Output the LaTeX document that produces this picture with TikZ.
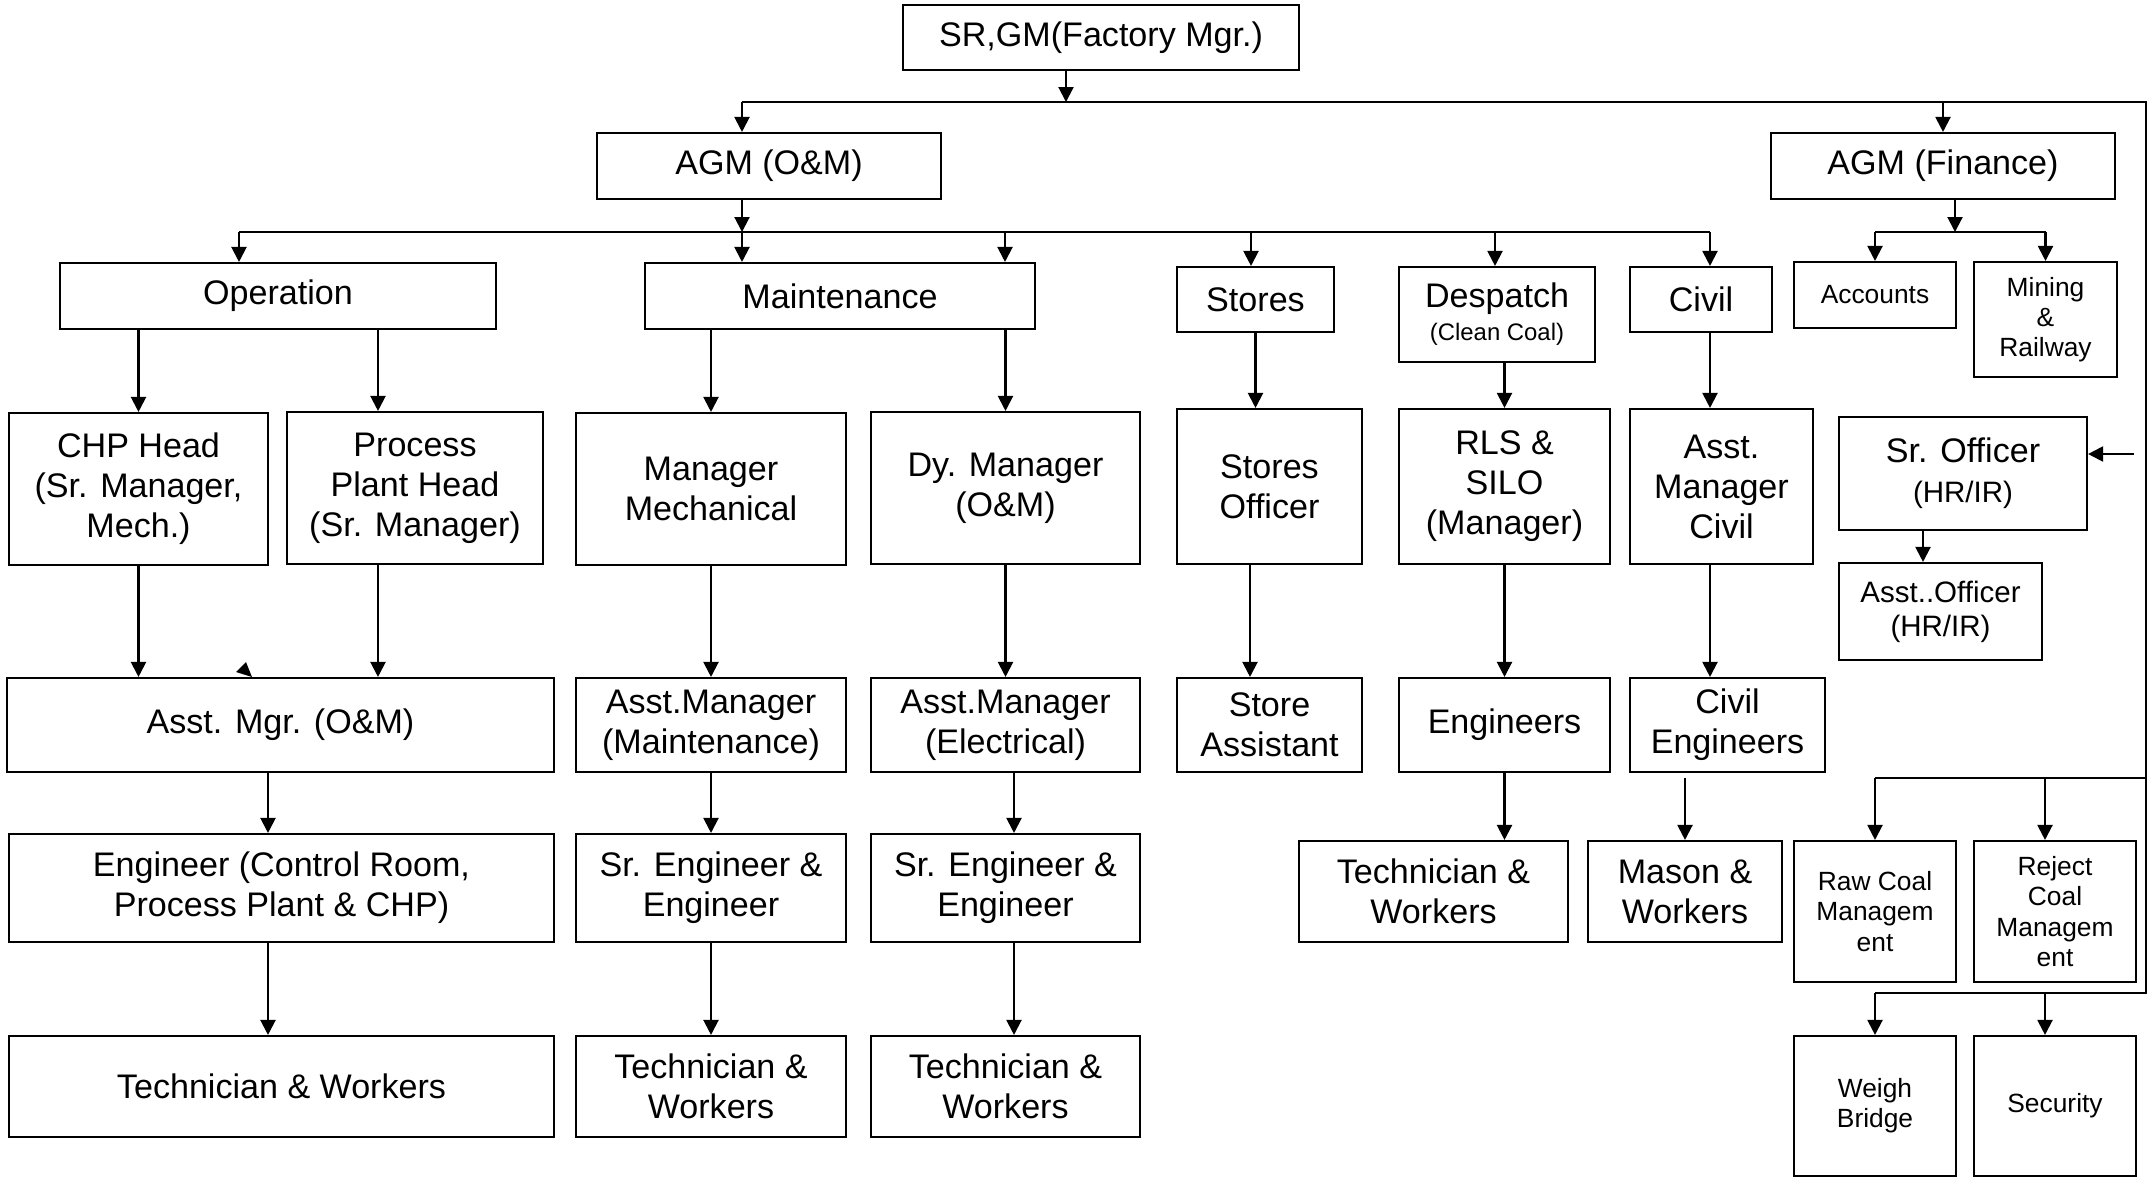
\documentclass[tikz,border=0pt]{standalone}
\usepackage{fontspec}
\setmainfont{Liberation Sans}
\usetikzlibrary{arrows.meta}

\newcommand{\orgfont}{\fontsize{9.7}{11.4}\selectfont}
\newcommand{\orgmid}{\fontsize{8.4}{9.6}\selectfont}
\newcommand{\orgsmall}{\fontsize{7.5}{8.6}\selectfont}
\newcommand{\orgtiny}{\fontsize{6.8}{8}\selectfont}

\begin{document}
\begin{tikzpicture}[
line width=0.6pt,
box/.style={
draw,
inner sep=1pt,
align=center,
font=\orgfont
},
wh/.style 2 args={minimum width=#1cm, minimum height=#2cm},
bus/.style={line width=0.8pt},
>={Triangle[length=1.5mm,width=1.5mm]}
]

\useasboundingbox (0,0) rectangle (21.53,-11.77);

% top level
\node[box, wh={3.96}{0.65}] (srgm) at (11.01,-0.375) {SR,GM(Factory Mgr.)};
\node[box, wh={3.44}{0.66}] (agmom) at (7.69,-1.66) {AGM (O\&M)};
\node[box, wh={3.44}{0.66}] (agmfin) at (19.43,-1.66) {AGM (Finance)};

% departments
\node[box, wh={4.36}{0.66}] (operation) at (2.78,-2.96) {Operation};
\node[box, wh={3.90}{0.66}] (maint) at (8.40,-2.96) {Maintenance};
\node[box, wh={1.57}{0.65}] (stores) at (12.555,-2.995) {Stores};
\node[box, wh={1.96}{0.95}] (despatch) at (14.97,-3.145) {Despatch\\[-2pt]{\orgtiny (Clean Coal)}};
\node[box, wh={1.42}{0.65}] (civil) at (17.01,-2.995) {Civil};
\node[box, wh={1.62}{0.66}, font=\orgsmall] (accounts) at (18.75,-2.95) {Accounts};
\node[box, wh={1.43}{1.15}, font=\orgsmall] (mining) at (20.455,-3.195) {Mining\\\&\\Railway};

% heads
\node[box, wh={2.59}{1.52}] (chp) at (1.385,-4.89) {CHP Head\\(Sr. Manager,\\Mech.)};
\node[box, wh={2.56}{1.52}] (process) at (4.15,-4.88) {Process\\Plant Head\\(Sr. Manager)};
\node[box, wh={2.70}{1.52}] (mgrmech) at (7.11,-4.89) {Manager\\Mechanical};
\node[box, wh={2.69}{1.52}] (dymgr) at (10.055,-4.88) {Dy. Manager\\(O\&M)};
\node[box, wh={1.85}{1.55}] (storesoff) at (12.695,-4.865) {Stores\\Officer};
\node[box, wh={2.11}{1.55}] (rls) at (15.045,-4.865) {RLS \&\\SILO\\(Manager)};
\node[box, wh={1.83}{1.55}] (amcivil) at (17.215,-4.865) {Asst.\\Manager\\Civil};
\node[box, wh={2.48}{1.13}] (srofficer) at (19.63,-4.735) {Sr. Officer\\{\orgmid (HR/IR)}};
\node[box, wh={2.03}{0.97}, font=\orgmid] (asstofficer) at (19.405,-6.115) {Asst..Officer\\(HR/IR)};

% assistant managers
\node[box, wh={5.47}{0.94}] (amom) at (2.805,-7.25) {Asst. Mgr. (O\&M)};
\node[box, wh={2.70}{0.94}] (ammaint) at (7.11,-7.25) {Asst.Manager\\(Maintenance)};
\node[box, wh={2.69}{0.94}] (amelec) at (10.055,-7.25) {Asst.Manager\\(Electrical)};
\node[box, wh={1.85}{0.94}] (storeasst) at (12.695,-7.25) {Store\\Assistant};
\node[box, wh={2.11}{0.94}] (engineers) at (15.045,-7.25) {Engineers};
\node[box, wh={1.95}{0.94}] (civileng) at (17.275,-7.25) {Civil\\Engineers};

% engineers
\node[box, wh={5.45}{1.08}] (engctrl) at (2.815,-8.88) {Engineer (Control Room,\\Process Plant \& CHP)};
\node[box, wh={2.70}{1.08}] (srengA) at (7.11,-8.88) {Sr. Engineer \&\\Engineer};
\node[box, wh={2.69}{1.08}] (srengB) at (10.055,-8.88) {Sr. Engineer \&\\Engineer};
\node[box, wh={2.69}{1.01}] (techdesp) at (14.335,-8.915) {Technician \&\\Workers};
\node[box, wh={1.94}{1.01}] (mason) at (16.85,-8.915) {Mason \&\\Workers};
\node[box, wh={1.62}{1.41}, font=\orgsmall] (rawcoal) at (18.75,-9.115) {Raw Coal\\Managem\\ent};
\node[box, wh={1.62}{1.41}, font=\orgsmall] (rejcoal) at (20.55,-9.115) {Reject\\Coal\\Managem\\ent};

% workers
\node[box, wh={5.45}{1.01}] (techA) at (2.815,-10.865) {Technician \& Workers};
\node[box, wh={2.70}{1.01}] (techB) at (7.11,-10.865) {Technician \&\\Workers};
\node[box, wh={2.69}{1.01}] (techC) at (10.055,-10.865) {Technician \&\\Workers};
\node[box, wh={1.62}{1.40}, font=\orgsmall] (weigh) at (18.75,-11.06) {Weigh\\Bridge};
\node[box, wh={1.62}{1.40}, font=\orgsmall] (security) at (20.55,-11.06) {Security};

% bus points
\coordinate (gmtap) at (10.66,-1.02);
\coordinate (busL) at (7.42,-1.02);
\coordinate (busR) at (21.46,-1.02);
\coordinate (busC) at (21.46,-7.78);
\coordinate (busB) at (21.46,-9.93);
\coordinate (hrtap) at (21.34,-4.54);
\coordinate (omL) at (2.39,-2.32);
\coordinate (omR) at (17.10,-2.32);
\coordinate (fintap) at (19.55,-2.32);

% main feed
\draw[->] (srgm.south -| gmtap) -- (gmtap);
\draw[bus] (busL) -- (busR) -- (busB) -- (weigh.north |- busB);
\draw[bus] (busC) -- (rawcoal.north |- busC);
\draw[->] (busL) -- (busL |- agmom.north);
\draw[->] (agmfin.north |- busR) -- (agmfin.north);
\draw[->] (hrtap) -- (hrtap -| srofficer.east);

% O&M branches
\draw[->] (agmom.south -| busL) -- (busL |- omL);
\draw[bus] (omL) -- (omR);
\foreach \x/\dest in {2.39/operation, 7.42/maint, 10.05/maint, 12.51/stores, 14.95/despatch, 17.10/civil}
\draw[->] (\x,-2.32) -- (\x,-2.32 |- \dest.north);

% finance branches
\draw[->] (agmfin.south -| fintap) -- (fintap);
\draw[bus] (accounts.north |- fintap) -- (mining.north |- fintap);
\draw[->] (accounts.north |- fintap) -- (accounts.north);
\draw[->] (mining.north |- fintap) -- (mining.north);

% department to head
\draw[->] (operation.south -| chp.north) -- (chp.north);
\draw[->] ([xshift=-3.7mm]process.north |- operation.south) -- ([xshift=-3.7mm]process.north);
\draw[->] (mgrmech.north |- maint.south) -- (mgrmech.north);
\draw[->] (dymgr.north |- maint.south) -- (dymgr.north);
\draw[->] (stores.south) -- (stores.south |- storesoff.north);
\draw[->] (rls.north |- despatch.south) -- (rls.north);
\draw[->] ([xshift=-1.15mm]amcivil.north |- civil.south) -- ([xshift=-1.15mm]amcivil.north);

% head to assistant
\draw[->] (chp.south) -- (chp.south |- amom.north);
\draw[->] ([xshift=-3.7mm]process.south) -- ([xshift=-3.7mm]process.south |- amom.north);
\draw[->] (mgrmech.south) -- (ammaint.north);
\draw[->] (dymgr.south) -- (amelec.north);
\draw[->] ([xshift=-1.95mm]storesoff.south) -- ([xshift=-1.95mm]storesoff.south |- storeasst.north);
\draw[->] (rls.south) -- (engineers.north);
\draw[->] ([xshift=-1.15mm]amcivil.south) -- ([xshift=-1.15mm]amcivil.south |- civileng.north);
\draw[->] ([xshift=-4mm]srofficer.south) -- ([xshift=-4mm]srofficer.south |- asstofficer.north);
\fill (2.36,-6.72) -- (2.46,-6.62) -- (2.52,-6.77) -- cycle;

% assistant to engineer
\draw[->] ([xshift=-1.25mm]amom.south) -- ([xshift=-1.25mm]amom.south |- engctrl.north);
\draw[->] (ammaint.south) -- (srengA.north);
\draw[->] ([xshift=0.85mm]amelec.south) -- ([xshift=0.85mm]amelec.south |- srengB.north);
\draw[->] (engineers.south) -- (engineers.south |- techdesp.north);
\draw[->] (mason.north |- busC) -- (mason.north);
\draw[->] (rawcoal.north |- busC) -- (rawcoal.north);
\draw[->] ([xshift=-1mm]rejcoal.north |- busC) -- ([xshift=-1mm]rejcoal.north);

% engineer to workers
\draw[->] ([xshift=-1.35mm]engctrl.south) -- ([xshift=-1.35mm]engctrl.south |- techA.north);
\draw[->] (srengA.south) -- (techB.north);
\draw[->] ([xshift=0.85mm]srengB.south) -- ([xshift=0.85mm]srengB.south |- techC.north);
\draw[->] (weigh.north |- busB) -- (weigh.north);
\draw[->] ([xshift=-1mm]security.north |- busB) -- ([xshift=-1mm]security.north);

\end{tikzpicture}
\end{document}
